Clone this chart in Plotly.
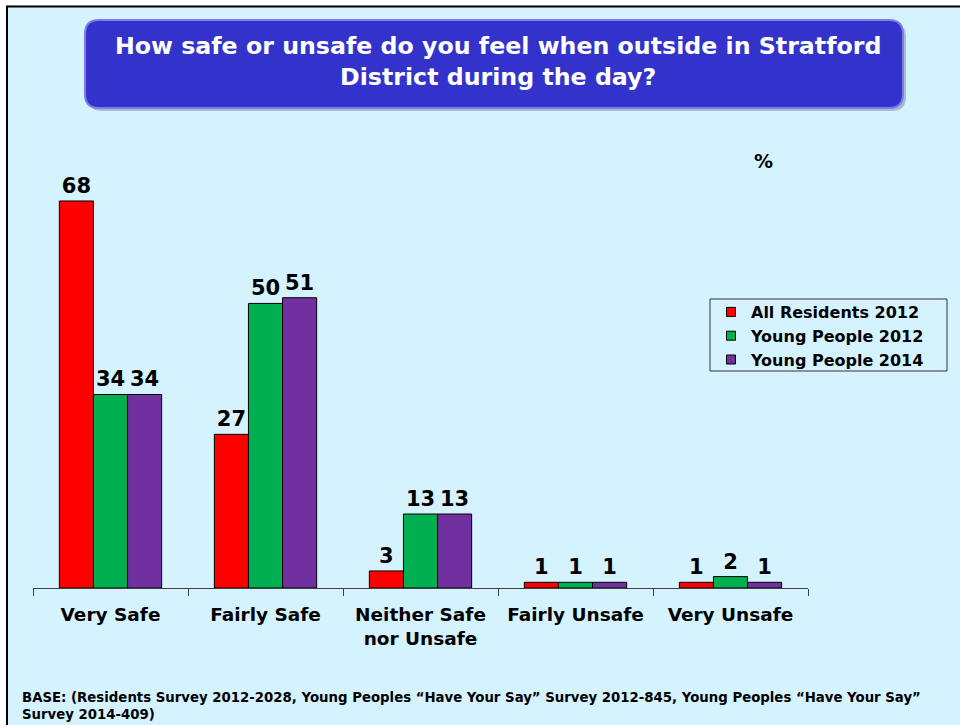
import plotly.graph_objects as go

categories = ["Very Safe", "Fairly Safe", "Neither Safe<br>nor Unsafe", "Fairly Unsafe", "Very Unsafe"]
series_names = ["All Residents 2012", "Young People 2012", "Young People 2014"]
all_residents_2012 = [68, 27, 3, 1, 1]
young_people_2012 = [34, 50, 13, 1, 2]
young_people_2014 = [34, 51, 13, 1, 1]
colors = ["#FF0000", "#00B050", "#7030A0"]

W, H = 960, 725
# plot area in pixel coordinates
L, R, T, B = 33, 808, 160, 588
Y_MAX = 75.2
FONT = "DejaVu Sans, Verdana, sans-serif"

def px(x):
    return (x - L) / (R - L)

def py(y):
    return (B - y) / (B - T)

fig = go.Figure()
for name, vals, col in zip(series_names, [all_residents_2012, young_people_2012, young_people_2014], colors):
    fig.add_trace(go.Bar(
        x=categories, y=vals, name=name, showlegend=False,
        marker=dict(color=col, line=dict(color="#000000", width=1)),
        text=[str(v) for v in vals], textposition="outside",
        textfont=dict(family=FONT, size=21, color="#000000", weight="bold"),
        cliponaxis=False,
    ))
# legend entries with small square swatches
for name, col in zip(series_names, colors):
    fig.add_trace(go.Scatter(
        x=[None], y=[None], mode="markers", name=name,
        marker=dict(symbol="square", size=9, color=col, line=dict(color="#000000", width=1)),
    ))

def rounded_path(x0, y0, x1, y1, r):
    rx = r / (R - L)
    ry = r / (B - T)
    X0, X1 = px(x0), px(x1)
    Y0, Y1 = py(y0), py(y1)
    return (f"M {X0+rx},{Y0} L {X1-rx},{Y0} Q {X1},{Y0} {X1},{Y0-ry} "
            f"L {X1},{Y1+ry} Q {X1},{Y1} {X1-rx},{Y1} L {X0+rx},{Y1} "
            f"Q {X0},{Y1} {X0},{Y1+ry} L {X0},{Y0-ry} Q {X0},{Y0} {X0+rx},{Y0} Z")

shapes = [
    dict(type="path", xref="paper", yref="paper", path=rounded_path(88, 23, 906, 111, 14),
         fillcolor="rgba(90,110,130,0.40)", line=dict(width=0), layer="above"),
    dict(type="path", xref="paper", yref="paper", path=rounded_path(85, 20, 903, 108, 14),
         fillcolor="#3333CC", line=dict(color="#7B7BEA", width=2), layer="above"),
    # legend frame
    dict(type="rect", xref="paper", yref="paper", x0=px(710), x1=px(947), y0=py(299), y1=py(371),
         line=dict(color="#333333", width=1), fillcolor="rgba(0,0,0,0)"),
    # white page margin outside the slide
    dict(type="rect", xref="paper", yref="paper", x0=px(-2), x1=px(6), y0=py(-2), y1=py(730),
         line=dict(width=0), fillcolor="#FFFFFF"),
    dict(type="rect", xref="paper", yref="paper", x0=px(-2), x1=px(970), y0=py(-2), y1=py(5),
         line=dict(width=0), fillcolor="#FFFFFF"),
    # slide border (left, top)
    dict(type="line", xref="paper", yref="paper", x0=px(7), x1=px(7), y0=py(6), y1=py(740),
         line=dict(color="#000000", width=2)),
    dict(type="line", xref="paper", yref="paper", x0=px(6), x1=px(980), y0=py(6.5), y1=py(6.5),
         line=dict(color="#000000", width=2)),
]

annotations = [
    dict(xref="paper", yref="paper", x=px(498), y=py(62), xanchor="center", yanchor="middle",
         text="How safe or unsafe do you feel when outside in Stratford<br>District during the day?",
         showarrow=False, align="center",
         font=dict(family=FONT, size=23.7, color="#FFFFFF", weight="bold")),
    dict(xref="paper", yref="paper", x=px(763), y=py(161), xanchor="center", yanchor="middle",
         text="%", showarrow=False,
         font=dict(family=FONT, size=19, color="#000000", weight="bold")),
    dict(xref="paper", yref="paper", x=px(20), y=py(706), xanchor="left", yanchor="middle",
         text="BASE: (Residents Survey 2012-2028, Young Peoples \u201cHave Your Say\u201d Survey 2012-845, Young Peoples \u201cHave Your Say\u201d<br>Survey 2014-409)",
         showarrow=False, align="left",
         font=dict(family=FONT, size=13.3, color="#000000", weight="bold")),
]

fig.update_layout(
    width=W, height=H,
    margin=dict(l=L, r=W - R, t=T, b=H - B, pad=0),
    paper_bgcolor="#D5F3FF", plot_bgcolor="#D5F3FF",
    barmode="group", bargap=0.34, bargroupgap=0,
    showlegend=True,
    legend=dict(x=px(711), y=py(295), xanchor="left", yanchor="top",
                bgcolor="rgba(0,0,0,0)", borderwidth=0,
                font=dict(family=FONT, size=16, color="#000000", weight="bold"),
                tracegroupgap=0, itemclick=False, itemdoubleclick=False),
    xaxis=dict(showline=True, linecolor="#404040", linewidth=1,
               ticks="outside", tickson="boundaries", ticklen=7, tickcolor="#404040",
               tickfont=dict(family=FONT, size=18.5, color="#000000", weight="bold"),
               ticklabelstandoff=10,
               showgrid=False, zeroline=False, fixedrange=True),
    yaxis=dict(range=[0, Y_MAX], visible=False, showgrid=False, zeroline=False, fixedrange=True),
    shapes=shapes, annotations=annotations,
    font=dict(family=FONT),
    hovermode=False,
)

fig.write_html(
    "out.html",
    config={"displayModeBar": False},
    post_script="document.body.style.margin='0';document.body.style.overflow='hidden';",
)
